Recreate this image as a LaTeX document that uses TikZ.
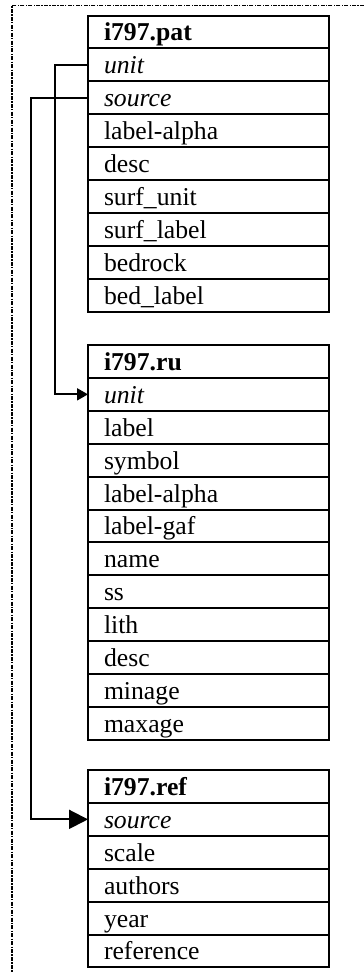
\documentclass[tikz,border=0pt]{standalone}
\usepackage{fontspec}
\setmainfont{Liberation Serif}
\usetikzlibrary{arrows.meta}
\begin{document}
\begin{tikzpicture}[x=1pt,y=-1pt,
  fieldrow/.style={draw, line width=2pt, anchor=north west, outer sep=0pt,
    inner xsep=16pt, inner ysep=0pt, text width=209pt, minimum height=32.9pt,
    text height=20pt, text depth=2.1pt, align=left,
    font=\fontsize{25.7}{28}\selectfont},
  headrow/.style={fieldrow, font=\fontsize{25.7}{28}\selectfont\bfseries},
  keyrow/.style={fieldrow, font=\fontsize{25.7}{28}\selectfont\itshape},
  conn/.style={draw, line width=2pt},
  framestyle/.style={line width=1.8pt, dash pattern=on 4pt off 1.3pt on 1.3pt off 1.3pt}
]
\useasboundingbox (0,0) rectangle (364,972);
% frame
\coordinate (frameTR) at (364,5.5);
\coordinate (frameTL) at (12,5.5);
\coordinate (frameBL) at (12,972);
\draw[framestyle] (frameTR) -- (frameTL) -- (frameBL);

% table i797.pat
\node[headrow] (pat-h) at (88,15.5) {i797.pat};
\node[keyrow] (pat-unit) at (pat-h.south west) {unit};
\node[keyrow] (pat-source) at (pat-unit.south west) {source};
\node[fieldrow] (pat-la) at (pat-source.south west) {label-alpha};
\node[fieldrow] (pat-desc) at (pat-la.south west) {desc};
\node[fieldrow] (pat-su) at (pat-desc.south west) {surf\_unit};
\node[fieldrow] (pat-sl) at (pat-su.south west) {surf\_label};
\node[fieldrow] (pat-bed) at (pat-sl.south west) {bedrock};
\node[fieldrow] (pat-bl) at (pat-bed.south west) {bed\_label};

% table i797.ru
\node[headrow] (ru-h) at (88,345) {i797.ru};
\node[keyrow] (ru-unit) at (ru-h.south west) {unit};
\node[fieldrow] (ru-label) at (ru-unit.south west) {label};
\node[fieldrow] (ru-symbol) at (ru-label.south west) {symbol};
\node[fieldrow] (ru-la) at (ru-symbol.south west) {label-alpha};
\node[fieldrow] (ru-lg) at (ru-la.south west) {label-gaf};
\node[fieldrow] (ru-name) at (ru-lg.south west) {name};
\node[fieldrow] (ru-ss) at (ru-name.south west) {ss};
\node[fieldrow] (ru-lith) at (ru-ss.south west) {lith};
\node[fieldrow] (ru-desc) at (ru-lith.south west) {desc};
\node[fieldrow] (ru-min) at (ru-desc.south west) {minage};
\node[fieldrow] (ru-max) at (ru-min.south west) {maxage};

% table i797.ref
\node[headrow] (ref-h) at (88,770) {i797.ref};
\node[keyrow] (ref-source) at (ref-h.south west) {source};
\node[fieldrow] (ref-scale) at (ref-source.south west) {scale};
\node[fieldrow] (ref-auth) at (ref-scale.south west) {authors};
\node[fieldrow] (ref-year) at (ref-auth.south west) {year};
\node[fieldrow] (ref-ref) at (ref-year.south west) {reference};

% connectors
\draw[conn, -{Triangle[length=11pt,width=12pt]}]
  (pat-unit.west) -- ++(-33,0) |- (ru-unit.west);
\draw[conn, -{Triangle[length=19pt,width=19pt]}]
  (pat-source.west) -- ++(-57,0) |- (ref-source.west);
\end{tikzpicture}
\end{document}
